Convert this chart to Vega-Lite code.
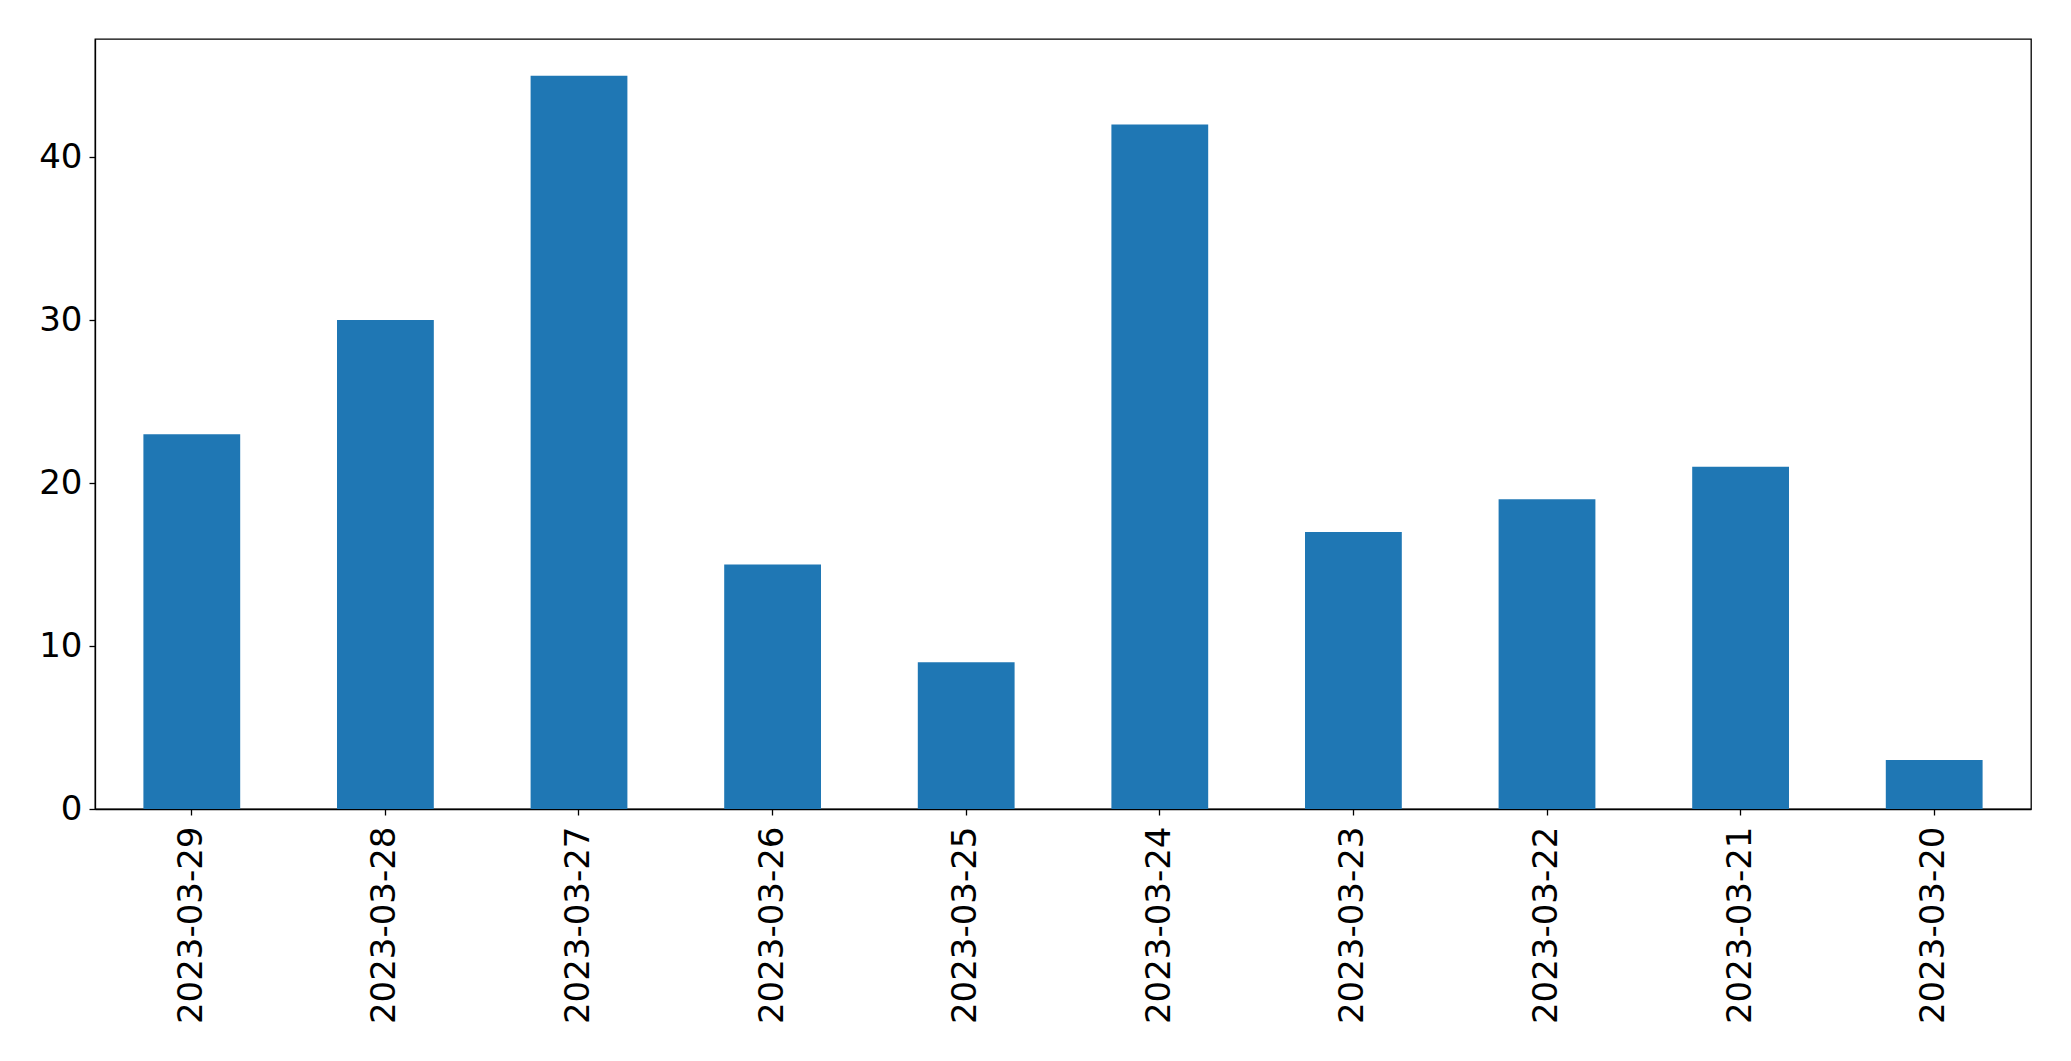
{
  "$schema": "https://vega.github.io/schema/vega-lite/v6.json",
  "autosize": "none",
  "padding": {"left": 95, "top": 39, "right": 40, "bottom": 252},
  "width": 1936,
  "height": 770,
  "background": "white",
  "config": {
    "view": {"stroke": "black", "strokeWidth": 1.3},
    "font": "DejaVu Sans",
    "axis": {"grid": false, "domainColor": "black", "tickColor": "black", "labelColor": "black", "labelFont": "DejaVu Sans", "labelFontSize": 34, "labelLimit": 0, "tickSize": 6, "tickWidth": 1.3, "domainWidth": 1.3, "title": null}
  },
  "data": {"values": [
    {"date": "2023-03-29", "count": 23},
    {"date": "2023-03-28", "count": 30},
    {"date": "2023-03-27", "count": 45},
    {"date": "2023-03-26", "count": 15},
    {"date": "2023-03-25", "count": 9},
    {"date": "2023-03-24", "count": 42},
    {"date": "2023-03-23", "count": 17},
    {"date": "2023-03-22", "count": 19},
    {"date": "2023-03-21", "count": 21},
    {"date": "2023-03-20", "count": 3}
  ]},
  "mark": {"type": "bar", "color": "#1f77b4"},
  "encoding": {
    "x": {"field": "date", "type": "nominal", "sort": null,
          "scale": {"paddingInner": 0.5, "paddingOuter": 0.25},
          "axis": {"labelAngle": -90, "labelAlign": "right", "labelBaseline": "middle", "labelPadding": 11}},
    "y": {"field": "count", "type": "quantitative",
          "scale": {"domain": [0, 47.25], "nice": false, "zero": true},
          "axis": {"values": [0, 10, 20, 30, 40], "labelPadding": 7}}
  }
}
